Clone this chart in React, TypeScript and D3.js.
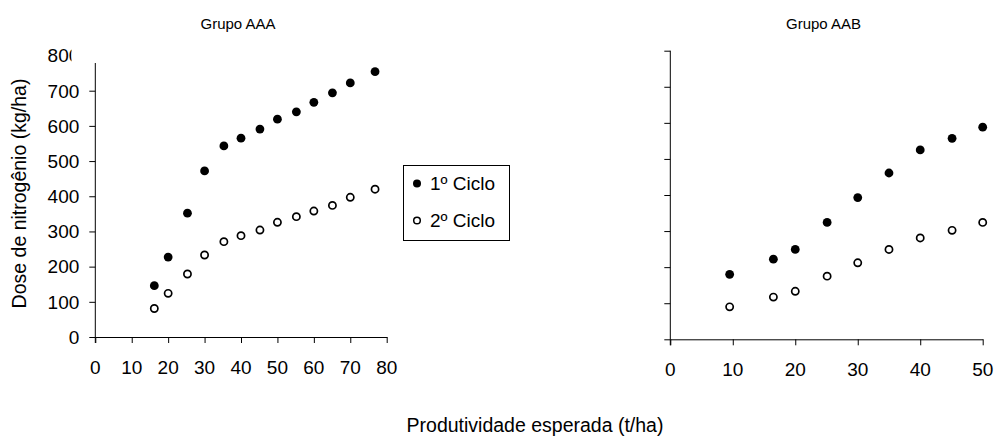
import React, { useRef, useEffect } from "react";
import * as d3 from "d3";

// Grupo AAA
const aaaX = [16.2, 20, 25.3, 30, 35.3, 40, 45.2, 50, 55.2, 60, 65.1, 70, 76.8];
const aaaCiclo1 = [146, 227, 352, 472, 543, 565, 591, 619, 640, 667, 694, 722, 754];
const aaaCiclo2 = [81, 124, 179, 233, 271, 288, 304, 326, 342, 358, 374, 397, 420];

// Grupo AAB
const aabX = [9.5, 16.5, 20, 25.1, 30, 35, 40, 45.1, 50];
const aabCiclo1 = [180, 222, 249, 324, 393, 461, 525, 557, 588];
const aabCiclo2 = [90, 117, 133, 175, 212, 249, 281, 302, 324];

const aaaXTicks = [0, 10, 20, 30, 40, 50, 60, 70, 80];
const aabXTicks = [0, 10, 20, 30, 40, 50];
const yTicks = [0, 100, 200, 300, 400, 500, 600, 700, 800];
const seriesNames = ["1º Ciclo", "2º Ciclo"];

const FONT = "Arial, 'Liberation Sans', sans-serif";

const App: React.FC = () => {
  const ref = useRef<SVGSVGElement>(null);

  useEffect(() => {
    if (!ref.current) return;
    const svg = d3.select(ref.current);
    svg.selectAll("*").remove();

    const drawPanel = (
      opts: {
        x: d3.ScaleLinear<number, number>;
        y: d3.ScaleLinear<number, number>;
        xs: number[];
        s1: number[];
        s2: number[];
        xTicks: number[];
        title: string;
        labels: boolean;
        top: number;
        labelY: number;
      }
    ) => {
      const { x, y, xs, s1, s2, xTicks, title, labels, top, labelY } = opts;
      const g = svg.append("g");
      const [x0] = x.range();
      const y0 = y(0);

      // title
      g.append("text")
        .attr("x", (x.range()[0] + x.range()[1]) / 2 - 3)
        .attr("y", 29)
        .attr("text-anchor", "middle")
        .style("font-family", FONT)
        .style("font-size", "15px")
        .text(title);

      // y axis (ticks only, domain drawn to plot top)
      const yAx = g
        .append("g")
        .attr("transform", `translate(${x0},0)`)
        .call(
          d3
            .axisLeft(y)
            .tickValues(yTicks.filter((t) => y(t) >= top - 0.5))
            .tickSize(6)
            .tickSizeOuter(0)
            .tickFormat(() => "")
        );
      yAx.select(".domain").remove();
      yAx.selectAll("line").attr("stroke", "#000");
      g.append("line")
        .attr("x1", x0)
        .attr("x2", x0)
        .attr("y1", top)
        .attr("y2", y0 + 6)
        .attr("stroke", "#000");

      if (labels) {
        // the top label is cut by the chart frame, as in the original
        const clipId = "clip-ylabels";
        svg
          .append("clipPath")
          .attr("id", clipId)
          .append("rect")
          .attr("x", 0)
          .attr("y", 0)
          .attr("width", 71.5)
          .attr("height", 440);
        g.append("g")
          .attr("clip-path", `url(#${clipId})`)
          .selectAll("text")
          .data(yTicks.filter((t) => y(t) < top))
          .enter()
          .append("text")
          .attr("x", x0 - 16)
          .attr("y", (d) => y(d))
          .attr("dy", "0.36em")
          .attr("text-anchor", "end")
          .style("font-family", FONT)
          .style("font-size", "19px")
          .text((d) => d);
        g.selectAll("text.yl")
          .data(yTicks.filter((t) => y(t) >= top))
          .enter()
          .append("text")
          .attr("class", "yl")
          .attr("x", x0 - 16)
          .attr("y", (d) => y(d))
          .attr("dy", "0.36em")
          .attr("text-anchor", "end")
          .style("font-family", FONT)
          .style("font-size", "19px")
          .text((d) => d);
      }

      // x axis
      const xAx = g
        .append("g")
        .attr("transform", `translate(0,${y0})`)
        .call(
          d3
            .axisBottom(x)
            .tickValues(xTicks)
            .tickSize(6)
            .tickSizeOuter(0)
            .tickFormat(() => "")
        );
      xAx.select(".domain").attr("stroke", "#000");
      xAx.selectAll("line").attr("stroke", "#000");

      g.selectAll("text.xl")
        .data(xTicks)
        .enter()
        .append("text")
        .attr("class", "xl")
        .attr("x", (d) => x(d))
        .attr("y", labelY)
        .attr("text-anchor", "middle")
        .style("font-family", FONT)
        .style("font-size", "19px")
        .text((d) => d);

      // points
      g.selectAll("circle.c1")
        .data(xs)
        .enter()
        .append("circle")
        .attr("class", "c1")
        .attr("cx", (d) => x(d))
        .attr("cy", (_, i) => y(s1[i]))
        .attr("r", 4.4)
        .attr("fill", "#000");
      g.selectAll("circle.c2")
        .data(xs)
        .enter()
        .append("circle")
        .attr("class", "c2")
        .attr("cx", (d) => x(d))
        .attr("cy", (_, i) => y(s2[i]))
        .attr("r", 3.6)
        .attr("fill", "#fff")
        .attr("stroke", "#000")
        .attr("stroke-width", 1.7);
    };

    drawPanel({
      x: d3.scaleLinear().domain([0, 80]).range([95.3, 386.7]),
      y: d3.scaleLinear().domain([0, 800]).range([337, 55.5]),
      xs: aaaX,
      s1: aaaCiclo1,
      s2: aaaCiclo2,
      xTicks: aaaXTicks,
      title: "Grupo AAA",
      labels: true,
      top: 63,
      labelY: 374,
    });

    drawPanel({
      x: d3.scaleLinear().domain([0, 50]).range([670.3, 982.7]),
      y: d3.scaleLinear().domain([0, 800]).range([339.3, 50.7]),
      xs: aabX,
      s1: aabCiclo1,
      s2: aabCiclo2,
      xTicks: aabXTicks,
      title: "Grupo AAB",
      labels: false,
      top: 50.7,
      labelY: 376,
    });

    // legend
    const lg = svg.append("g").attr("transform", "translate(403.5,165.5)");
    lg.append("rect")
      .attr("width", 106)
      .attr("height", 75)
      .attr("fill", "#fff")
      .attr("stroke", "#000");
    const rowY = d3.scalePoint().domain(seriesNames).range([18, 55]);
    seriesNames.forEach((name, i) => {
      const yy = rowY(name) || 0;
      if (i === 0) {
        lg.append("circle").attr("cx", 13.5).attr("cy", yy).attr("r", 4).attr("fill", "#000");
      } else {
        lg.append("circle")
          .attr("cx", 13.5)
          .attr("cy", yy)
          .attr("r", 3.3)
          .attr("fill", "#fff")
          .attr("stroke", "#000")
          .attr("stroke-width", 1.5);
      }
      lg.append("text")
        .attr("x", 26.5)
        .attr("y", yy)
        .attr("dy", "0.36em")
        .style("font-family", FONT)
        .style("font-size", "19px")
        .text(name);
    });

    // axis titles
    svg
      .append("text")
      .attr("transform", "translate(26,193.5) rotate(-90)")
      .attr("text-anchor", "middle")
      .style("font-family", FONT)
      .style("font-size", "19.5px")
      .text("Dose de nitrogênio (kg/ha)");
    svg
      .append("text")
      .attr("x", 535)
      .attr("y", 432)
      .attr("text-anchor", "middle")
      .style("font-family", FONT)
      .style("font-size", "19.5px")
      .text("Produtividade esperada (t/ha)");
  }, []);

  return (
    <svg
      ref={ref}
      width={996}
      height={440}
      style={{ position: "absolute", left: 0, top: 0, display: "block", background: "#fff" }}
    ></svg>
  );
};

export default App;
